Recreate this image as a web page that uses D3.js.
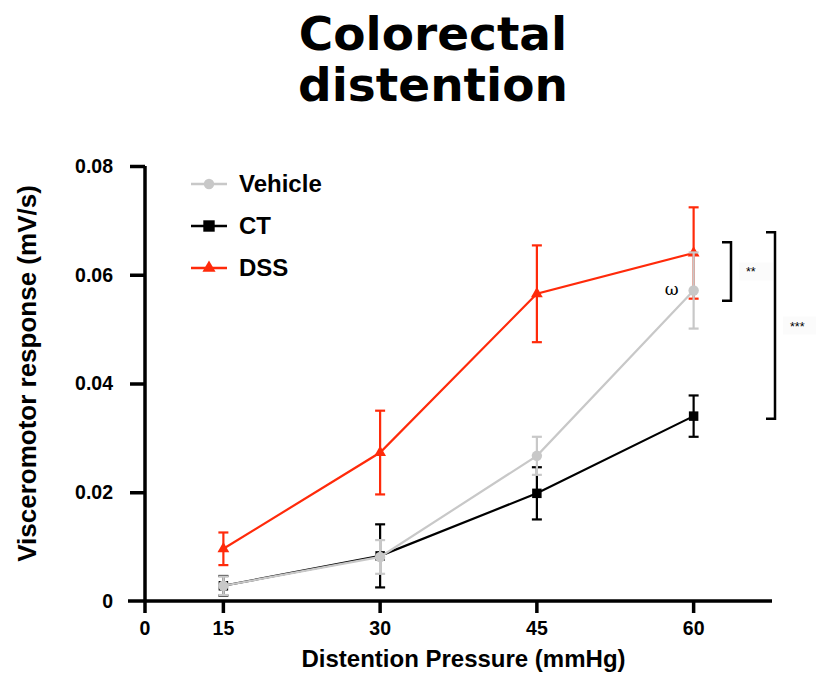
<!DOCTYPE html>
<html>
<head>
<meta charset="utf-8">
<script src="https://cdn.jsdelivr.net/npm/d3@7"></script>
<style>
  body { margin: 0; background: #fff; }
  text { font-family: "Liberation Sans", Arial, sans-serif; }
</style>
</head>
<body>
<div id="chart"></div>
<script>
// values
const pressures = ['15', '30', '45', '60'];
const yTicks = [0, 0.02, 0.04, 0.06, 0.08];
const seriesNames = ['Vehicle', 'CT', 'DSS'];
const vehicleMean = [0.0028, 0.0081, 0.0267, 0.0571];
const vehicleSem = [0.0017, 0.0031, 0.0035, 0.0070];
const ctMean = [0.0028, 0.0083, 0.0198, 0.0340];
const ctSem = [0.0018, 0.0058, 0.0048, 0.0038];
const dssMean = [0.0096, 0.0273, 0.0565, 0.0640];
const dssSem = [0.0030, 0.0077, 0.0089, 0.0084];
const brackets = [[0.0660, 0.0552, '**'], [0.0678, 0.0335, '***']];

const W = 816, H = 674;
const margin = {top: 166, right: 44, bottom: 73, left: 145};
const w = W - margin.left - margin.right,
    h = H - margin.top - margin.bottom;

const colors = {Vehicle: '#c8c8c8', CT: '#000000', DSS: '#ff2a0a'};
const series = [
    {name: 'DSS', mean: dssMean, sem: dssSem, symbol: d3.symbolTriangle, size: 60, legendSize: 75},
    {name: 'CT', mean: ctMean, sem: ctSem, symbol: d3.symbolSquare, size: 90, legendSize: 130},
    {name: 'Vehicle', mean: vehicleMean, sem: vehicleSem, symbol: d3.symbolCircle, size: 85, legendSize: 85}
];

let xScale = d3.scaleBand()
    .domain(pressures)
    .range([0, w])
    .padding(0);

let yScale = d3.scaleLinear()
    .domain([0, 0.08])
    .range([h, 0]);

const cx = (i) => xScale(pressures[i]) + xScale.bandwidth() / 2;

let svg = d3.select('#chart').append('svg')
    .attr('width', W)
    .attr('height', H);

// title
svg.append('text')
    .attr('text-anchor', 'middle')
    .style('font-family', '"DejaVu Sans", Verdana, sans-serif')
    .style('font-weight', 'bold')
    .style('font-size', '47px')
    .selectAll('tspan')
    .data(['Colorectal', 'distention'])
    .enter().append('tspan')
    .attr('x', 433)
    .attr('y', (d, i) => i ? 101 : 50)
    .text(d => d);

let g = svg.append('g')
    .attr('transform', 'translate(' + margin.left + ',' + margin.top + ')');

// axes
let yAxis = g.append('g')
    .call(d3.axisLeft(yScale).tickValues(yTicks).tickSize(15).tickPadding(17)
        .tickFormat(d => d === 0 ? '0' : d3.format('.2f')(d)));

let xAxis = g.append('g')
    .attr('transform', 'translate(0,' + h + ')')
    .call(d3.axisBottom(xScale).tickSize(12).tickPadding(8).tickSizeOuter(0));

// the "0" at the origin
xAxis.append('line').attr('x1', 0).attr('x2', 0).attr('y1', 0).attr('y2', 12);
xAxis.append('text').attr('x', 0).attr('y', 20).attr('dy', '0.71em').text('0');

[yAxis, xAxis].forEach(a => {
    a.select('.domain').attr('stroke', '#000').attr('stroke-width', 3.5);
    a.selectAll('line').attr('stroke', '#000').attr('stroke-width', 3.5);
    a.selectAll('text')
        .attr('fill', '#000')
        .style('font-size', '19.5px')
        .style('font-weight', 'bold')
        .style('font-family', '"Liberation Sans", Arial, sans-serif');
});
yAxis.select('.domain').attr('d', 'M0,' + h + 'V0');
yAxis.selectAll('.tick').filter(d => d === 0).select('line').remove();
xAxis.select('.domain').attr('d', 'M-17,0H' + w);
xAxis.selectAll('text').attr('text-anchor', 'middle');

// axis titles
g.append('text')
    .attr('x', w / 2 + 5).attr('y', h + 66)
    .attr('text-anchor', 'middle')
    .style('font-size', '24px').style('font-weight', 'bold')
    .text('Distention Pressure (mmHg)');

g.append('text')
    .attr('transform', 'translate(-109,' + (h / 2 - 10) + ') rotate(-90)')
    .attr('text-anchor', 'middle')
    .style('font-size', '26px').style('font-weight', 'bold')
    .text('Visceromotor response (mV/s)');

// series
const line = d3.line()
    .x((d, i) => cx(i))
    .y(d => yScale(d));

series.forEach(s => {
    let sg = g.append('g').attr('class', 'series');
    let col = colors[s.name];

    sg.append('path')
        .datum(s.mean)
        .attr('d', line)
        .attr('fill', 'none')
        .attr('stroke', col)
        .attr('stroke-width', 2.2);

    let bars = sg.selectAll('.err')
        .data(s.mean)
        .enter().append('g')
        .attr('class', 'err')
        .attr('stroke', col)
        .attr('stroke-width', 2.2);

    bars.append('line')
        .attr('x1', (d, i) => cx(i)).attr('x2', (d, i) => cx(i))
        .attr('y1', (d, i) => yScale(d + s.sem[i]))
        .attr('y2', (d, i) => yScale(d - s.sem[i]));
    [1, -1].forEach(sign => {
        bars.append('line')
            .attr('x1', (d, i) => cx(i) - 5).attr('x2', (d, i) => cx(i) + 5)
            .attr('y1', (d, i) => yScale(d + sign * s.sem[i]))
            .attr('y2', (d, i) => yScale(d + sign * s.sem[i]));
    });

    sg.selectAll('.pt')
        .data(s.mean)
        .enter().append('path')
        .attr('class', 'pt')
        .attr('d', d3.symbol().type(s.symbol).size(s.size))
        .attr('transform', (d, i) => 'translate(' + cx(i) + ',' + yScale(d) + ')')
        .attr('fill', col);
});

// omega mark next to vehicle at 60
g.append('text')
    .attr('x', cx(3) - 15).attr('y', yScale(vehicleMean[3]) + 4)
    .attr('text-anchor', 'end')
    .style('font-family', '"DejaVu Serif", "Liberation Serif", serif')
    .style('font-size', '17px')
    .text('ω');

// significance brackets
const bx = [586, 630];
brackets.forEach((b, i) => {
    let x = bx[i];
    let mid = (yScale(b[0]) + yScale(b[1])) / 2;
    g.append('path')
        .attr('d', 'M' + (x - 9) + ',' + yScale(b[0]) + 'H' + x + 'V' + yScale(b[1]) + 'H' + (x - 9))
        .attr('fill', 'none')
        .attr('stroke', '#000')
        .attr('stroke-width', 2.5);
    g.append('rect')
        .attr('x', x + 8).attr('y', mid - 9)
        .attr('width', 34).attr('height', 18)
        .attr('fill', '#fbfbfb');
    g.append('text')
        .attr('x', x + 15).attr('y', mid + 5)
        .style('font-size', '12.5px')
        .text(b[2]);
});

// legend
let legend = svg.append('g')
    .attr('transform', 'translate(191,184)');
const legendSeries = seriesNames.map(n => series.find(s => s.name === n));
let items = legend.selectAll('.item')
    .data(legendSeries)
    .enter().append('g')
    .attr('class', 'item')
    .attr('transform', (d, i) => 'translate(0,' + i * 42 + ')');
items.append('line')
    .attr('x1', 0).attr('x2', 36).attr('y1', 0).attr('y2', 0)
    .attr('stroke', d => colors[d.name])
    .attr('stroke-width', 2.5);
items.append('path')
    .attr('d', d => d3.symbol().type(d.symbol).size(d.legendSize)())
    .attr('transform', 'translate(18,0)')
    .attr('fill', d => colors[d.name]);
items.append('text')
    .attr('x', 48).attr('y', 8)
    .style('font-size', '24px').style('font-weight', 'bold')
    .text(d => d.name);
</script>
</body>
</html>
